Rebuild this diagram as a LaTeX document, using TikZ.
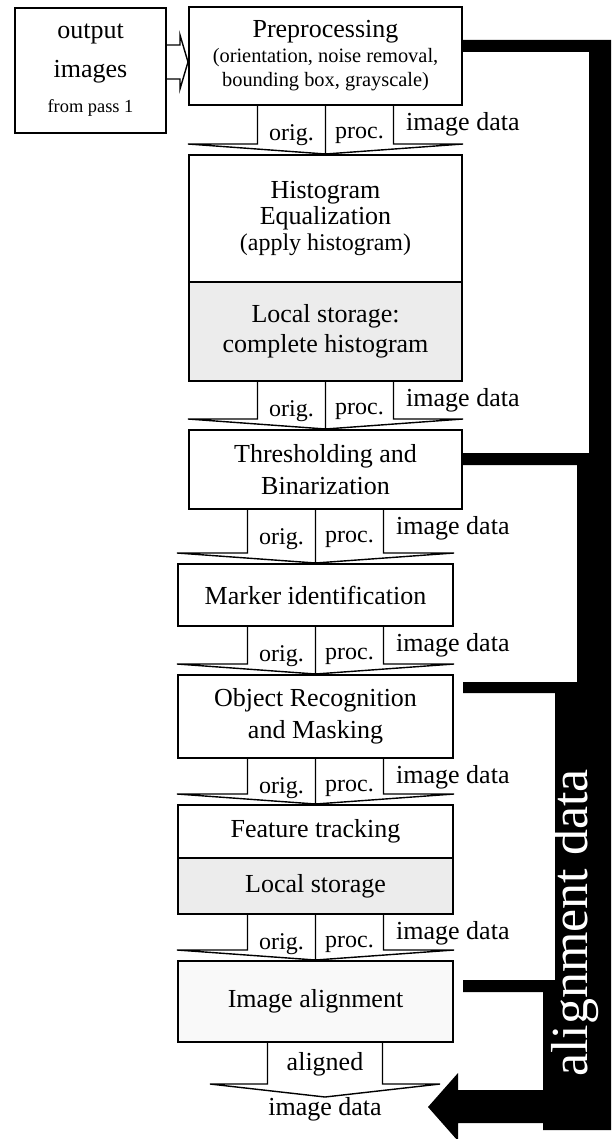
\documentclass[tikz,border=0pt]{standalone}
\usepackage{fontspec}
\setmainfont{Liberation Serif}
\usetikzlibrary{calc}

\newcommand{\smalltext}{\fontsize{9.2}{12}\selectfont}
\newcommand{\notetext}{\fontsize{10.2}{12}\selectfont}
\tikzset{
  box/.style={draw, line width=1pt, inner sep=0pt, align=center,
    font=\fontsize{13}{15.5}\selectfont},
  upbox/.style={box, minimum width=136.5pt},
  lowbox/.style={box, minimum width=137.5pt},
  storage/.style={fill=gray!15},
  flowline/.style={line width=0.7pt, line join=miter},
  lbl/.style={inner sep=0pt, font=\fontsize{12}{14}\selectfont},
  datalbl/.style={inner sep=0pt, font=\fontsize{13}{15}\selectfont},
}
% hollow arrow: source box -> target box, with its three labels
\newcommand{\dataflow}[2]{%
  \draw[flowline] let \p1=(#1.south), \p2=(#2.north), \p3=(#2.west), \p4=(#2.east) in
    (\x2-34pt,\y1) -- (\x2-34pt,\y2+5pt) -- (\x3,\y2+5pt) -- (\p2)
    -- (\x4,\y2+5pt) -- (\x2+34pt,\y2+5pt) -- (\x2+34pt,\y1)
    (\x2,\y1) -- (\p2)
    node[lbl] (#1-orig) at (\x2-17pt,\y1-14.5pt) {orig.}
    node[lbl] (#1-proc) at (\x2+17pt,\y1-14.5pt) {proc.}
    node[datalbl, anchor=west] (#1-data) at (\x2+40pt,\y1-9pt) {image data};
}

\begin{document}
\begin{tikzpicture}[x=0.5pt,y=0.5pt]
\useasboundingbox (0,0) rectangle (611,-1139);

% input from the first pass
\node[box, minimum width=75.5pt, minimum height=62.5pt] (out) at (90.5,-70.5)
  {output\\[4pt]images\\[2pt]\smalltext from pass 1};

% processing chain
\node[upbox, minimum height=49pt, font=\fontsize{13}{12.25}\selectfont] (pre) at (325.5,-56)
  {Preprocessing\\\notetext (orientation, noise removal,\\\notetext bounding box, grayscale)};
\node[upbox, minimum height=63.5pt, font=\fontsize{13}{13}\selectfont] (histeq) at (325.5,-218.5)
  {Histogram\\Equalization\\\fontsize{12}{13}\selectfont (apply histogram)};
\node[upbox, storage, minimum height=49.5pt, font=\fontsize{13}{15}\selectfont] (histls) at (325.5,-331.5)
  {Local storage:\\complete histogram};
\node[upbox, minimum height=39.5pt, font=\fontsize{13}{16}\selectfont] (thr) at (325.5,-469.5)
  {Thresholding and\\Binarization};
\node[lowbox, minimum height=31pt] (mark) at (315.5,-595) {Marker identification};
\node[lowbox, minimum height=41.5pt, font=\fontsize{13}{16}\selectfont] (obj) at (315.5,-716.5)
  {Object Recognition\\and Masking};
\node[lowbox, minimum height=26.5pt] (feat) at (315.5,-831.5) {Feature tracking};
\node[lowbox, storage, minimum height=28pt] (featls) at (315.5,-886) {Local storage};
\node[lowbox, fill=gray!5, minimum height=40.5pt] (align) at (315.5,-1001.5) {Image alignment};
\node[datalbl, anchor=north] (res) at (325,-1097) {image data};

% double arrow into preprocessing
\draw[flowline] let \p1=(out.east), \p2=(pre.west) in
  (\x1,\y1+12.75pt) -- (\x2-4pt,\y1+12.75pt) -- (\x2-4pt,\y1+17.75pt) -- (\x2,\y1+4.25pt)
  -- (\x2-4pt,\y1-9.25pt) -- (\x2-4pt,\y1-4.25pt) -- (\x1,\y1-4.25pt);

% image data between stages
\foreach \s/\t in {pre/histeq, histls/thr, thr/mark, mark/obj, obj/feat, featls/align}
  \dataflow{\s}{\t};

% final output arrow
\draw[flowline] let \p1=(align.south), \p2=(res.north) in
  (\x2-28.75pt,\y1) -- (\x2-28.75pt,\y2+6.5pt) -- (\x2-57.5pt,\y2+6.5pt) -- (\p2)
  -- (\x2+57.5pt,\y2+6.5pt) -- (\x2+28.75pt,\y2+6.5pt) -- (\x2+28.75pt,\y1)
  node[datalbl] (alq) at (\x2,\y1-10.5pt) {aligned};

% alignment data bus
\fill (462,-40) rectangle (611,-52)
      (589,-40) rectangle (611,-465)
      (462,-453) rectangle (611,-465)
      (577,-453) rectangle (611,-693)
      (463,-682) rectangle (611,-693)
      (555,-682) rectangle (611,-992)
      (463,-980) rectangle (611,-992)
      (543,-980) rectangle (611,-1130);
\fill (543,-1090) -- (458,-1090) -- (458,-1073) -- (428,-1107)
      -- (458,-1141) -- (458,-1123) -- (543,-1123) -- cycle;
\node[rotate=90, text=white, inner sep=0pt, font=\fontsize{26}{30}\selectfont] (buslbl)
  at (575,-923) {alignment data};
\end{tikzpicture}
\end{document}
